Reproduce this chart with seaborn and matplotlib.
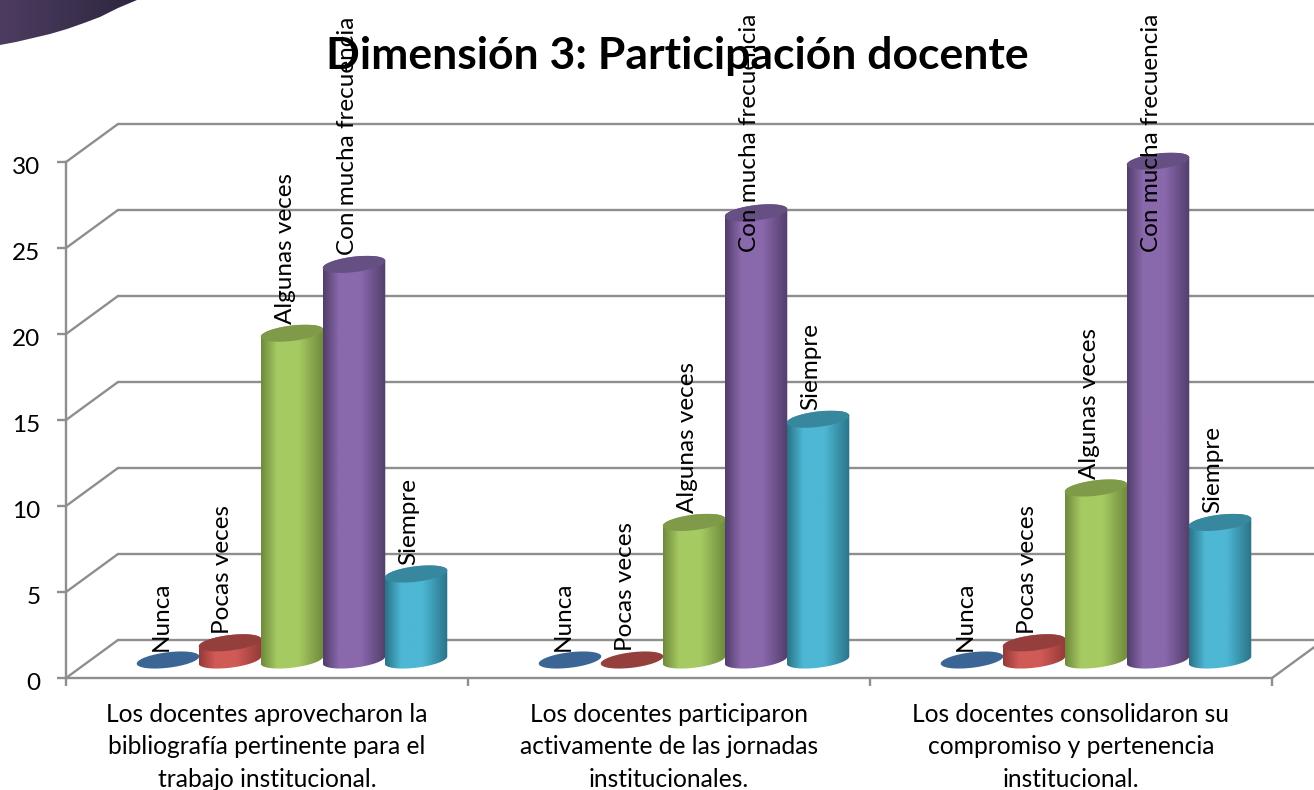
import numpy as np
import pandas as pd
import matplotlib
matplotlib.use("Agg")
import matplotlib.pyplot as plt
import seaborn as sns
from matplotlib.colors import LinearSegmentedColormap
from matplotlib.patches import Polygon
from matplotlib.transforms import Affine2D

# Datos
preguntas = [
    "Los docentes aprovecharon la\nbibliografía pertinente para el\ntrabajo institucional.",
    "Los docentes participaron\nactivamente de las jornadas\ninstitucionales.",
    "Los docentes consolidaron su\ncompromiso y pertenencia\ninstitucional.",
]
frecuencias = ["Nunca", "Pocas veces", "Algunas veces", "Con mucha frecuencia", "Siempre"]
nunca = [0, 0, 0]
pocas = [1, 0, 1]
algunas = [19, 8, 10]
mucha = [23, 26, 29]
siempre = [5, 14, 8]
y_ticks = [0, 5, 10, 15, 20, 25, 30]

# Colores: borde, centro, tapa
colores = {
    "Nunca": ("#2f5482", "#4f81bd", "#3b6594"),
    "Pocas veces": ("#953a38", "#d05a56", "#953f3d"),
    "Algunas veces": ("#6f8a3c", "#a6ca62", "#7f9b49"),
    "Con mucha frecuencia": ("#523e6c", "#8a68ac", "#665083"),
    "Siempre": ("#2a7488", "#4db7d4", "#37879f"),
}

sns.set_theme(style="white")
plt.rcParams["font.family"] = ["Lato", "DejaVu Sans"]

W, H = 1314, 790
PX_X = 402  # pixeles por pregunta
PX_Y = 17.2  # pixeles por unidad
GRIS = "#8e8e8e"
LW = 1.7

df = pd.DataFrame({
    "pregunta": preguntas * 5,
    "frecuencia": np.repeat(frecuencias, 3),
    "valor": nunca + pocas + algunas + mucha + siempre,
})

fig = plt.figure(figsize=(W / 100, H / 100), dpi=100, facecolor="white")

# Mancha decorativa arriba a la izquierda
ax_pag = fig.add_axes([0, 0, 1, 1], zorder=0)
ax_pag.set_axis_off()
deco = Polygon([(0, 0), (137, 0), (118, 8), (100, 17), (84, 23), (67, 29), (50, 34), (33, 38), (16, 42), (0, 45)],
               closed=True, facecolor="none", edgecolor="none", transform=ax_pag.transData)
ax_pag.add_patch(deco)
cmap_deco = LinearSegmentedColormap.from_list("deco", ["#4d3c60", "#2d2740"])
im = ax_pag.imshow(np.linspace(0, 1, 64)[None, :], extent=(0, 137, 45, 0), cmap=cmap_deco, aspect="auto")
im.set_clip_path(deco)
ax_pag.set_xlim(0, W)
ax_pag.set_ylim(H, 0)

# Plano frontal: ejes y paredes
rect = [66 / W, (H - 678) / H, 1206 / W, 516 / H]
ax = fig.add_axes(rect, zorder=1)
ax.patch.set_alpha(0)
ax.set_xlim(-0.5, 2.5)
ax.set_ylim(0, 30)
dx, dy = 52 / PX_X, 38 / PX_Y
for y in y_ticks:
    ax.plot([-0.5, -0.5 + dx], [y, y + dy], color=GRIS, lw=LW, clip_on=False, zorder=1)
    ax.plot([-0.5 + dx, 2.5 + dx], [y + dy, y + dy], color=GRIS, lw=LW, clip_on=False, zorder=1)
ax.plot([2.5, 2.5 + dx], [0, dy], color=GRIS, lw=LW, clip_on=False, zorder=1)
ax.set_yticks(y_ticks)
ax.set_xticks([-0.5, 0.5, 1.5, 2.5])
ax.set_xticklabels([])
ax.set_xticks([0, 1, 2], minor=True)
ax.set_xticklabels(preguntas, minor=True, fontsize=17.7, linespacing=1.5, color="black")
ax.tick_params(axis="x", which="major", length=6, width=LW, color=GRIS, bottom=True)
ax.tick_params(axis="x", which="minor", length=0, pad=18, bottom=True)
ax.tick_params(axis="y", length=6.5, width=LW, color=GRIS, left=True, labelsize=17.5, pad=12, labelcolor="black")
# Los numeros quedan un poco por debajo de su marca
for lbl in ax.get_yticklabels():
    lbl.set_transform(lbl.get_transform() + Affine2D().translate(0, -3))
sns.despine(ax=ax)
ax.spines["left"].set_color(GRIS)
ax.spines["bottom"].set_color(GRIS)
ax.spines["left"].set_linewidth(LW)
ax.spines["bottom"].set_linewidth(LW)

# Cilindros: mismo eje, desplazado hacia el fondo
rect_b = [(66 + 25) / W, (H - 678 + 18) / H, 1206 / W, 516 / H]
ax_b = fig.add_axes(rect_b, zorder=2)
ax_b.patch.set_alpha(0)
sns.barplot(data=df, x="pregunta", y="valor", hue="frecuencia", hue_order=frecuencias,
            palette={k: v[1] for k, v in colores.items()}, width=5 * 62 / PX_X, gap=0,
            saturation=1, legend=False, errorbar=None, ax=ax_b)

A, B, TILT = 31.5, 7.7, np.deg2rad(7)


def elipse(cx, cy, t):
    px = A * np.cos(t) * np.cos(TILT) - B * np.sin(t) * np.sin(TILT)
    py = A * np.cos(t) * np.sin(TILT) + B * np.sin(t) * np.cos(TILT)
    return np.column_stack([cx + px / PX_X, cy + py / PX_Y])


z = 3
for nombre, cont in zip(frecuencias, ax_b.containers):
    borde, centro, tapa = colores[nombre]
    cmap = LinearSegmentedColormap.from_list(nombre, [(0, borde), (0.25, centro), (0.6, centro), (1, borde)])
    for bar in cont:
        cx = bar.get_x() + bar.get_width() / 2
        h = bar.get_height()
        bar.set_visible(False)
        if h > 0:
            abajo = elipse(cx, 0, np.linspace(np.pi, 2 * np.pi, 40))
            arriba = elipse(cx, h, np.linspace(0, np.pi, 40))
            cuerpo = Polygon(np.vstack([abajo, arriba]), closed=True, facecolor="none",
                             edgecolor="none", zorder=z, clip_on=False)
            ax_b.add_patch(cuerpo)
            x0, x1 = cuerpo.get_xy()[:, 0].min(), cuerpo.get_xy()[:, 0].max()
            y0, y1 = cuerpo.get_xy()[:, 1].min(), cuerpo.get_xy()[:, 1].max()
            im = ax_b.imshow(np.linspace(0, 1, 64)[None, :], extent=(x0, x1, y0, y1), cmap=cmap,
                             aspect="auto", interpolation="bilinear", zorder=z)
            im.set_clip_box(fig.bbox)
            im.set_clip_path(cuerpo)
        ax_b.add_patch(Polygon(elipse(cx, h, np.linspace(0, 2 * np.pi, 80)), closed=True,
                               facecolor=tapa, edgecolor="none", zorder=z + 0.5, clip_on=False))
        z += 1
        # Etiqueta: no sube mas alla del limite del grafico
        ax_b.annotate(nombre, (cx, min(h, 23.2)), xytext=(-7, 9), textcoords="offset pixels",
                      rotation=90, ha="center", va="bottom", fontsize=17.5, color="black", zorder=100)

ax_b.set_xlim(-0.5, 2.5)
ax_b.set_ylim(0, 30)
ax_b.set_axis_off()

fig.text(677 / W, 1 - 56 / H, "Dimensión 3: Participación docente", ha="center", va="center",
         fontsize=32, fontweight="bold", color="black", zorder=50)

fig.savefig("out.png", dpi=100)
